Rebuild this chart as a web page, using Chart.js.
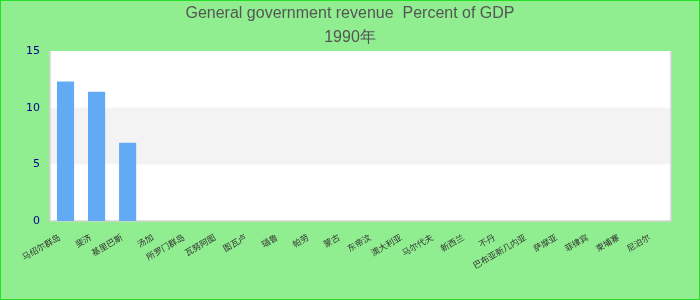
<!DOCTYPE html>
<html>
<head>
<meta charset="utf-8">
<script src="https://cdn.jsdelivr.net/npm/chart.js@4"></script>
<style>
  html, body { margin: 0; padding: 0; background: #90ee90; }
  #wrap { width: 700px; height: 300px; box-sizing: border-box; border: 1px solid #22e022; background: #90ee90; position: relative; }
  canvas { display: block; }
</style>
</head>
<body>
<div id="wrap"><canvas id="c" width="698" height="298"></canvas></div>
<script>
const titleLines = ["General government revenue  Percent of GDP", "1990年"];
const categories = ["马绍尔群岛", "斐济", "基里巴斯", "汤加", "所罗门群岛", "瓦努阿图", "图瓦卢", "瑙鲁", "帕劳", "蒙古",
                    "东帝汶", "澳大利亚", "马尔代夫", "新西兰", "不丹", "巴布亚新几内亚", "萨摩亚", "菲律宾", "柬埔寨", "尼泊尔"];
const revenue = [12.3, 11.4, 6.9, null, null, null, null, null, null, null,
                 null, null, null, null, null, null, null, null, null, null];
const yTicks = [0, 5, 10, 15];

const plotBg = {
  id: 'plotBg',
  beforeDraw(chart) {
    const {ctx, chartArea: a, scales: {y}} = chart;
    ctx.save();
    ctx.fillStyle = '#ffffff';
    ctx.fillRect(a.left, a.top, a.right - a.left, a.bottom - a.top);
    ctx.fillStyle = '#f3f3f3';
    const t = y.getPixelForValue(10), b = y.getPixelForValue(5);
    ctx.fillRect(a.left, t, a.right - a.left, b - t);
    ctx.strokeStyle = '#d3d3d3';
    ctx.lineWidth = 1.5;
    ctx.beginPath();
    ctx.moveTo(a.left, a.top); ctx.lineTo(a.left, a.bottom); ctx.lineTo(a.right, a.bottom); ctx.lineTo(a.right, a.top);
    ctx.stroke();
    ctx.restore();
  }
};

new Chart(document.getElementById('c'), {
  type: 'bar',
  data: {
    labels: categories,
    datasets: [{ data: revenue, backgroundColor: '#63aaf5', borderWidth: 0,
                 categoryPercentage: 0.8, barPercentage: 0.69 }]
  },
  options: {
    responsive: false,
    animation: false,
    layout: { padding: { left: 0, right: 0, top: 0, bottom: 0 } },
    plugins: {
      legend: { display: false },
      tooltip: { enabled: false },
      title: {
        display: true, text: titleLines, color: '#555555',
        font: { family: 'Liberation Sans, Arial', size: 16, weight: 'normal', lineHeight: 1.5 },
        padding: { top: 1, bottom: 1 }
      }
    },
    scales: {
      x: {
        grid: { display: false, drawTicks: false },
        border: { display: false },
        ticks: { color: '#333333', font: { family: 'Noto Sans CJK SC', size: 8.5 },
                 minRotation: 30, maxRotation: 30, autoSkip: false, padding: 11, labelOffset: -6 },
        afterFit(s) { s.height = 78; }
      },
      y: {
        min: 0, max: 15,
        afterBuildTicks(s) { s.ticks = yTicks.map(v => ({ value: v })); },
        grid: { display: false, drawTicks: false },
        border: { display: false },
        ticks: { color: '#00008b', font: { family: 'DejaVu Sans', size: 11 }, padding: 10 },
        afterFit(s) { s.width = 49; }
      },
      yRight: {
        position: 'right',
        min: 0, max: 15,
        grid: { display: false, drawTicks: false },
        border: { display: false },
        ticks: { display: false },
        afterFit(s) { s.width = 28; }
      }
    }
  },
  plugins: [plotBg]
});
</script>
</body>
</html>
